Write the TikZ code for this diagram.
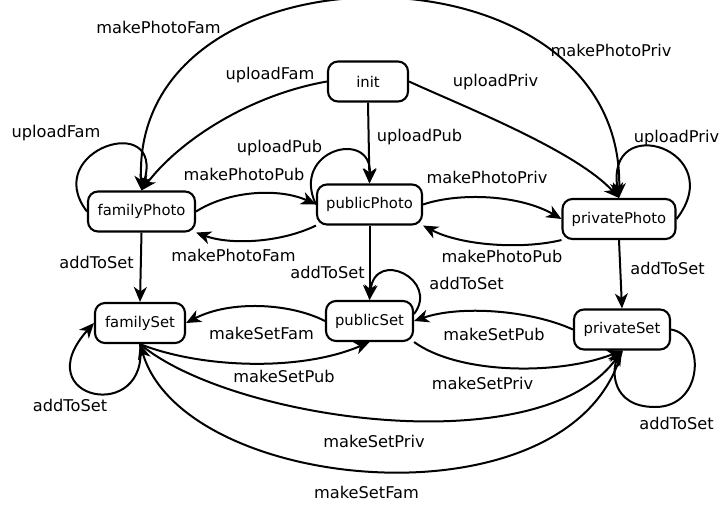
\documentclass[tikz,border=0pt]{standalone}
\usepackage{fontspec}
\setmainfont{DejaVu Sans}
\usetikzlibrary{arrows.meta}
\begin{document}
\begin{tikzpicture}[x=1pt,y=-1pt,
  >={Stealth[length=15pt,width=13pt,inset=4.5pt]},
  state/.style={draw, line width=2.1pt, rounded corners=10pt, minimum height=40pt, inner sep=2pt, font=\fontsize{14.8}{16}\selectfont},
  edge/.style={line width=2pt, ->},
  twoway/.style={line width=2pt, <->},
  lab/.style={font=\fontsize{16.2}{18}\selectfont, anchor=base, inner sep=0pt}]
\useasboundingbox (0,0) rectangle (720,507);
% states
\node[state, minimum width=80pt] (init) at (368,81.5) {init};
\node[state, minimum width=107pt] (fP) at (141.5,211.5) {familyPhoto};
\node[state, minimum width=105pt] (pP) at (369.5,204.5) {publicPhoto};
\node[state, minimum width=113pt] (vP) at (619,219) {privatePhoto};
\node[state, minimum width=90pt] (fS) at (140,323) {familySet};
\node[state, minimum width=87pt] (pS) at (369.5,321) {publicSet};
\node[state, minimum width=96pt] (vS) at (622,329.5) {privateSet};
% from init
\draw[edge] (init.west) .. controls (250,95) and (180,140) .. (fP.north) node[lab] (l1) at (270,79) {uploadFam};
\draw[edge] (init.south) -- (pP.north) node[lab] (l2) at (419.5,141) {uploadPub};
\draw[edge] (init.east) .. controls (460,105) and (575,150) .. (vP.north) node[lab] (l3) at (495.5,86) {uploadPriv};
% big top arc: makePhotoFam (privatePhoto -> familyPhoto) and makePhotoPriv (familyPhoto -> privatePhoto)
\draw[twoway] (fP.north) .. controls (130,-65) and (625,-65) .. (vP.north)
  node[lab] (l4) at (158.5,33) {makePhotoFam}
  node[lab] (l5) at (611,56) {makePhotoPriv};
% photo self loops
\draw[edge] (fP.west) .. controls (40,150) and (165,110) .. (fP.north) node[lab] (l6) at (56,137) {uploadFam};
\draw[edge] (pP.west) .. controls (290,150) and (372,128) .. (pP.north) node[lab] (l7) at (279.5,152) {uploadPub};
\draw[edge] (vP.east) .. controls (730,150) and (605,110) .. (vP.north) node[lab] (l8) at (676.5,142) {uploadPriv};
% photo pairs
\draw[edge] (fP.east) .. controls (230,190) and (280,188) .. (pP.west) node[lab] (l9) at (244,180) {makePhotoPub};
\draw[edge] (pP.south west) .. controls (280,243) and (230,245) .. (fP.south east) node[lab] (l10) at (233.5,261) {makePhotoFam};
\draw[edge] (pP.east) .. controls (460,192) and (520,195) .. (vP.west) node[lab] (l11) at (487,183) {makePhotoPriv};
\draw[edge] (vP.south west) .. controls (520,250) and (460,245) .. (pP.south east) node[lab] (l12) at (502,262) {makePhotoPub};
% addToSet verticals
\draw[edge] (fP.south) -- (fS.north) node[lab] (l13) at (96.5,268) {addToSet};
\draw[edge] (pP.south) -- (pS.north) node[lab] (l14) at (327.5,278) {addToSet};
\draw[edge] (vP.south) -- (vS.north) node[lab] (l15) at (667.5,274) {addToSet};
% set self loops
\draw[edge] (fS.south) .. controls (150,425) and (25,400) .. (fS.west) node[lab] (l16) at (70,411.7) {addToSet};
\draw[edge] (pS.9) .. controls (440,280) and (375,248) .. (pS.north) node[lab] (l17) at (466.5,289) {addToSet};
\coordinate (vSloop) at (655,407);
\draw[edge] (vS.east) .. controls (705,335) and (705,407) .. (vSloop) .. controls (610,407) and (612,368) .. (vS.south) node[lab] (l18) at (676.5,429) {addToSet};
% set pairs
\draw[edge] (pS.west) .. controls (290,303) and (230,300) .. (fS.east) node[lab] (l19) at (261.5,339) {makeSetFam};
\draw[edge] (fS.south) .. controls (200,368) and (300,372) .. (pS.south) node[lab] (l20) at (284,382.7) {makeSetPub};
\draw[edge] (vS.west) .. controls (530,310) and (460,305) .. (pS.east) node[lab] (l21) at (494,340) {makeSetPub};
\draw[edge] (pS.south east) .. controls (460,375) and (560,375) .. (vS.south) node[lab] (l22) at (482.5,389) {makeSetPriv};
\draw[edge] (fS.south) .. controls (230,420) and (540,465) .. (vS.south) node[lab] (l23) at (374,447.7) {makeSetPriv};
\draw[edge] (vS.south) .. controls (575,530) and (185,495) .. (fS.south) node[lab] (l24) at (366.5,498) {makeSetFam};
\end{tikzpicture}
\end{document}
